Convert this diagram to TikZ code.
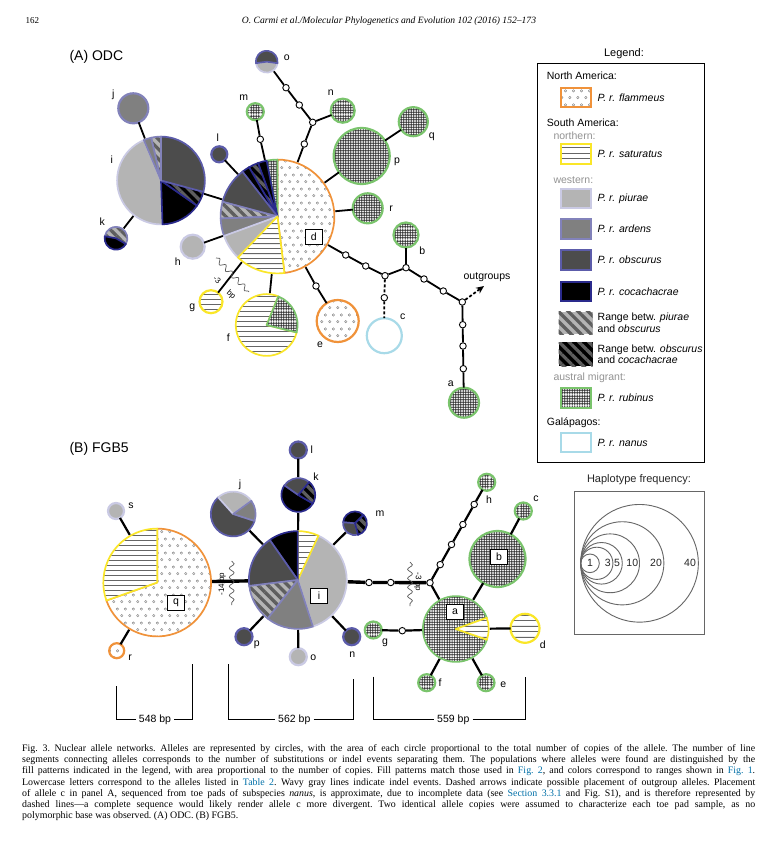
\documentclass[tikz,border=0pt]{standalone}
\usepackage{fontspec}
\setmainfont{Liberation Serif}
\setsansfont{Liberation Sans}
\usetikzlibrary{patterns,patterns.meta,arrows.meta,decorations.pathmorphing,positioning}

\definecolor{orangeb}{RGB}{240,146,58}
\definecolor{yellowb}{RGB}{250,230,40}
\definecolor{greenb}{RGB}{122,196,108}
\definecolor{nanusb}{RGB}{168,218,232}
\definecolor{piuf}{RGB}{180,180,180}
\definecolor{piub}{RGB}{202,202,228}
\definecolor{ardf}{RGB}{128,128,128}
\definecolor{ardb}{RGB}{130,130,186}
\definecolor{obsf}{RGB}{76,76,76}
\definecolor{obsb}{RGB}{92,92,170}
\definecolor{cocb}{RGB}{42,42,140}
\definecolor{linkblue}{RGB}{0,112,168}

\pgfdeclarepatternformonly{rings}{\pgfqpoint{0pt}{0pt}}{\pgfqpoint{8pt}{14pt}}{\pgfqpoint{8pt}{14pt}}{%
  \pgfsetlinewidth{0.45pt}%
  \pgfpathcircle{\pgfqpoint{2pt}{2.5pt}}{1.3pt}%
  \pgfpathcircle{\pgfqpoint{6pt}{9.5pt}}{1.3pt}%
  \pgfusepath{stroke}}
\pgfdeclarepatternformonly{hbars}{\pgfqpoint{0pt}{0pt}}{\pgfqpoint{40pt}{10.4pt}}{\pgfqpoint{40pt}{10.4pt}}{%
  \pgfsetlinewidth{0.9pt}%
  \pgfpathmoveto{\pgfqpoint{-1pt}{2.6pt}}\pgfpathlineto{\pgfqpoint{41pt}{2.6pt}}%
  \pgfpathmoveto{\pgfqpoint{-1pt}{7.8pt}}\pgfpathlineto{\pgfqpoint{41pt}{7.8pt}}%
  \pgfusepath{stroke}}
\pgfdeclarepatternformonly{mesh}{\pgfqpoint{0pt}{0pt}}{\pgfqpoint{10.4pt}{10.4pt}}{\pgfqpoint{10.4pt}{10.4pt}}{%
  \pgfsetlinewidth{0.7pt}%
  \foreach \g in {1.3,3.9,6.5,9.1}{%
    \pgfpathmoveto{\pgfqpoint{-0.5pt}{\g pt}}\pgfpathlineto{\pgfqpoint{10.9pt}{\g pt}}%
    \pgfpathmoveto{\pgfqpoint{\g pt}{-0.5pt}}\pgfpathlineto{\pgfqpoint{\g pt}{10.9pt}}}%
  \pgfusepath{stroke}}

\tikzset{
  piu/.style={fill=piuf,draw=piub},
  ard/.style={fill=ardf,draw=ardb},
  obs/.style={fill=obsf,draw=obsb},
  coc/.style={fill=black,draw=cocb},
  pobs/.style={preaction={fill=piuf},pattern={Lines[angle=-45,distance=7pt,line width=3.3pt]},pattern color=obsf!90,draw=ardb},
  ococ/.style={preaction={fill=black},pattern={Lines[angle=-45,distance=7pt,line width=3.3pt]},pattern color=obsf!90,draw=cocb},
  flam/.style={preaction={fill=white},pattern=rings,pattern color=gray,draw=orangeb},
  satu/.style={preaction={fill=white},pattern=hbars,pattern color=gray!80!black,draw=yellowb},
  rubi/.style={preaction={fill=white},pattern=mesh,pattern color=black!85,draw=greenb},
  nanu/.style={fill=white,draw=nanusb}
}

\newcommand{\pieslice}[5]{%
  \path[#5,line width=1.7pt,line join=round] (#1.center) -- ++({-(#3)}:#2)
    arc[start angle={-(#3)},end angle={-(#4)},radius=#2] -- cycle;}

\begin{document}
\begin{tikzpicture}[x=1pt,y=-1pt,
    allele/.style={circle,inner sep=0pt,outer sep=0pt,line width=2.2pt},
    pienode/.style={circle,inner sep=0pt,outer sep=0pt},
    hole/.style={circle,draw,fill=white,line width=0.9pt,inner sep=0pt,minimum size=6.5pt},
    net/.style={line width=1.8pt},
    netB/.style={line width=2.2pt},
    main/.style={line width=3.4pt},
    wavy/.style={gray!70!black,line width=0.7pt,decorate,decoration={snake,amplitude=2.4pt,segment length=9pt}},
    tag/.style={font=\sffamily\fontsize{10.5}{12}\selectfont,inner sep=1pt},
    idbox/.style={draw,fill=white,line width=0.8pt,font=\sffamily\fontsize{10.5}{12}\selectfont,minimum width=17pt,minimum height=15pt,inner sep=0pt},
    bplabel/.style={font=\sffamily\fontsize{8}{9}\selectfont,inner sep=0pt},
    swatch/.style={rectangle,minimum width=30pt,minimum height=19.5pt,line width=2pt,inner sep=0pt},
    keytext/.style={font=\sffamily\fontsize{10.5}{11.6}\selectfont,inner sep=0pt,align=left},
    keyhead/.style={font=\sffamily\fontsize{10.5}{12}\selectfont,inner sep=0pt,anchor=west},
    keysub/.style={keyhead,text=gray!85},
    bracket/.style={line width=0.9pt}]

\fill[white] (0,0) rectangle (776,842);
\useasboundingbox (0,0) rectangle (776,842);

\node[anchor=west,font=\fontsize{9}{10}\selectfont] (pageno) at (22,21) {162};
\node[font=\itshape\fontsize{9.6}{11}\selectfont] (runhead) at (389,21) {O. Carmi et al./Molecular Phylogenetics and Evolution 102 (2016) 152--173};

% (A) ODC
\node[anchor=west,font=\sffamily\fontsize{14}{16}\selectfont] (titleA) at (66,57) {(A) ODC};

\node[pienode,minimum size=116pt] (Ad) at (277.5,216.5) {};
\node[pienode,minimum size=90pt] (Ai) at (161,180.5) {};
\node[pienode,minimum size=24pt] (Ao) at (266.7,61.7) {};
\node[pienode,minimum size=25pt] (Ak) at (116,238.3) {};
\node[pienode,minimum size=64pt] (Af) at (266.7,325) {};
\node[allele,rubi,minimum size=24pt] (An) at (342.7,110.7) {};
\node[allele,rubi,minimum size=17pt] (Am) at (255.3,111.7) {};
\node[allele,obs,minimum size=16pt] (Al) at (219.3,154.3) {};
\node[allele,rubi,minimum size=56pt] (Ap) at (361.7,156) {};
\node[allele,rubi,minimum size=29pt] (Aq) at (413.3,121.7) {};
\node[allele,rubi,minimum size=30pt] (Ar) at (367.7,208.3) {};
\node[allele,rubi,minimum size=25pt] (Ab) at (406,235) {};
\node[allele,rubi,minimum size=30pt] (Aa) at (464,402.7) {};
\node[allele,nanu,minimum size=35pt] (Ac) at (384.3,335.7) {};
\node[allele,flam,minimum size=42pt] (Ae) at (337.7,321) {};
\node[allele,piu,minimum size=24pt] (Ah) at (192.7,246.7) {};
\node[allele,satu,minimum size=23pt] (Ag) at (211,301.7) {};
\node[allele,ard,minimum size=30pt] (Aj) at (133.3,108.3) {};

\pieslice{Ad}{56.9}{-83}{90}{flam}
\pieslice{Ad}{56.9}{90}{101}{rubi}
\pieslice{Ad}{56.9}{101}{110}{coc}
\pieslice{Ad}{56.9}{110}{120}{ococ}
\pieslice{Ad}{56.9}{120}{128}{coc}
\pieslice{Ad}{56.9}{128}{165}{obs}
\pieslice{Ad}{56.9}{165}{182}{pobs}
\pieslice{Ad}{56.9}{182}{200}{ard}
\pieslice{Ad}{56.9}{200}{226}{piu}
\pieslice{Ad}{56.9}{226}{277}{satu}

\pieslice{Ai}{43.9}{113}{272}{piu}
\pieslice{Ai}{43.9}{-88}{-35}{coc}
\pieslice{Ai}{43.9}{-35}{-15}{ococ}
\pieslice{Ai}{43.9}{-15}{90}{obs}
\pieslice{Ai}{43.9}{90}{103}{pobs}
\pieslice{Ai}{43.9}{103}{113}{ard}

\pieslice{Ao}{10.9}{188}{352}{piu}
\pieslice{Ao}{10.9}{-8}{188}{obs}
\pieslice{Ak}{11.4}{-30}{170}{pobs}
\pieslice{Ak}{11.4}{170}{330}{coc}
\pieslice{Af}{30.9}{68}{346}{satu}
\pieslice{Af}{30.9}{-14}{68}{rubi}

\node[hole] (Ao1) at (286,87.7) {};
\node[hole] (Ao2) at (299.3,105) {};
\node[hole] (Ax) at (312.7,122.3) {};
\node[hole] (Ax1) at (304.3,144) {};
\node[hole] (Am1) at (260.3,139.3) {};
\node[hole] (Ay1) at (345.7,255) {};
\node[hole] (Ay2) at (365.7,266) {};
\node[hole] (Ay) at (385,275.7) {};
\node[hole] (Az) at (406,267.7) {};
\node[hole] (Az1) at (424,279) {};
\node[hole] (Az2) at (443.3,291) {};
\node[hole] (Aw) at (462.3,302) {};
\node[hole] (Aw1) at (462.7,324.7) {};
\node[hole] (Aw2) at (463,346) {};
\node[hole] (Aw3) at (463.3,368.7) {};
\node[hole] (Ac1) at (384.3,297.7) {};
\node[hole] (Ae1) at (316,286) {};
\coordinate (Aout) at (484,286);

\draw[net] (Ao) -- (Ao1) -- (Ao2) -- (Ax) -- (Ax1) -- (Ad);
\draw[net] (Ax) -- (An);
\draw[net] (Am) -- (Am1) -- (Ad);
\draw[net] (Al) -- (Ad);
\draw[net] (Ad) -- (Ap) -- (Aq);
\draw[net] (Ad) -- (Ar);
\draw[net] (Ad) -- (Ay1) -- (Ay2) -- (Ay) -- (Az) -- (Az1) -- (Az2) -- (Aw);
\draw[net] (Az) -- (Ab);
\draw[net] (Aw) -- (Aw1) -- (Aw2) -- (Aw3) -- (Aa);
\draw[net,dash pattern=on 3pt off 2pt] (Ay) -- (Ac1) -- (Ac);
\draw[net,dash pattern=on 3pt off 2pt,-{Stealth[length=8pt,width=7pt]}] (Aw) -- (Aout);
\draw[net] (Ad) -- (Ae1) -- (Ae);
\draw[net] (Ah) -- (Ad);
\draw[net] (Ag) -- (Ad);
\draw[net] (Af) -- (Ad);
\draw[net] (Ai) -- (Ad);
\draw[net] (Aj) -- (Ai);
\draw[net] (Ak) -- (Ai);
\draw[wavy] (216,258) -- (249,292);
\node[bplabel,rotate=-40] (gapA1) at (217,280) {-3};
\node[bplabel,rotate=-40] (gapA2) at (231,295) {bp};

\node[tag] (tAo) at (286.7,58) {o};
\node[tag] (tAn) at (330.7,92.3) {n};
\node[tag] (tAm) at (243.7,97.3) {m};
\node[tag] (tAl) at (217.7,137.7) {l};
\node[tag] (tAp) at (397,161.7) {p};
\node[tag] (tAq) at (431.7,136.7) {q};
\node[tag] (tAr) at (391,209) {r};
\node[tag] (tAb) at (422.3,251) {b};
\node[tag] (tAa) at (450.7,384) {a};
\node[tag] (tAc) at (402.7,316.7) {c};
\node[tag] (tAe) at (320,344.3) {e};
\node[tag] (tAh) at (177.7,261.7) {h};
\node[tag] (tAg) at (192.3,307.3) {g};
\node[tag] (tAf) at (228.3,337.3) {f};
\node[tag] (tAi) at (111.7,160) {i};
\node[tag] (tAj) at (113.3,94.3) {j};
\node[tag] (tAk) at (102.3,221.7) {k};
\node[idbox] (tAd) at (313.7,236.7) {d};
\node[tag] (tAout) at (487,277) {outgroups};

% legend
\node[font=\sffamily\fontsize{11}{12}\selectfont] (legtitle) at (624,53.3) {Legend:};
\draw[line width=1pt] (537.3,63.3) rectangle (704.7,462.7);
\node[keyhead] (hNA) at (546.7,76) {North America:};
\node[keyhead] (hSA) at (546.7,122.7) {South America:};
\node[keysub] (hnorth) at (553.3,135.7) {northern:};
\node[keysub] (hwest) at (553.3,180) {western:};
\node[keysub] (haust) at (553.3,377.7) {austral migrant:};
\node[keyhead] (hgal) at (546.7,422.7) {Galápagos:};
\node[swatch,flam] (kflam) at (575.5,97.5) {};
\node[swatch,satu] (ksatu) at (575.5,154.2) {};
\node[swatch,piu] (kpiu) at (575.5,198.5) {};
\node[swatch,ard] (kard) at (575.5,229.2) {};
\node[swatch,obs] (kobs) at (575.5,260.2) {};
\node[swatch,coc] (kcoc) at (575.5,291.3) {};
\node[swatch,pobs,draw=none,minimum width=34pt,minimum height=22.6pt] (kpobs) at (575.5,323) {};
\node[swatch,ococ,draw=none,minimum width=34pt,minimum height=23.7pt] (kococ) at (575.5,354.2) {};
\node[swatch,rubi] (krubi) at (575.5,398) {};
\node[swatch,nanu] (knanu) at (575.5,442.5) {};
\node[keytext,right=6pt of kflam] (tflam) {\textit{P. r. flammeus}};
\node[keytext,right=6pt of ksatu] (tsatu) {\textit{P. r. saturatus}};
\node[keytext,right=6pt of kpiu] (tpiu) {\textit{P. r. piurae}};
\node[keytext,right=6pt of kard] (tard) {\textit{P. r. ardens}};
\node[keytext,right=6pt of kobs] (tobs) {\textit{P. r. obscurus}};
\node[keytext,right=6pt of kcoc] (tcoc) {\textit{P. r. cocachacrae}};
\node[keytext,right=4pt of kpobs] (tpobs) {Range betw. \textit{piurae}\\and \textit{obscurus}};
\node[keytext,right=4pt of kococ] (tococ) {Range betw. \textit{obscurus}\\and \textit{cocachacrae}};
\node[keytext,right=6pt of krubi] (trubi) {\textit{P. r. rubinus}};
\node[keytext,right=6pt of knanu] (tnanu) {\textit{P. r. nanus}};

% (B) FGB5
\node[anchor=west,font=\sffamily\fontsize{14}{16}\selectfont] (titleB) at (66,448.5) {(B) FGB5};

\node[pienode,minimum size=110pt] (Bq) at (157.2,582.5) {};
\node[pienode,minimum size=100pt] (Bi) at (297.8,580) {};
\node[pienode,minimum size=47pt] (Bj) at (233.2,514) {};
\node[pienode,minimum size=36pt] (Bk) at (298.3,495) {};
\node[pienode,minimum size=26pt] (Bm) at (355,523.3) {};
\node[pienode,minimum size=68pt] (Ba) at (455.8,629) {};
\node[allele,piu,minimum size=16pt] (Bs) at (116,511) {};
\node[allele,flam,minimum size=15pt] (Br) at (116.7,650.7) {};
\node[allele,obs,minimum size=17pt] (Bl) at (298.3,450) {};
\node[allele,obs,minimum size=17pt] (Bn) at (351.7,636.7) {};
\node[allele,piu,minimum size=17pt] (Bo) at (298.3,656.7) {};
\node[allele,obs,minimum size=17pt] (Bp) at (244,636.7) {};
\node[allele,rubi,minimum size=17pt] (Bh) at (486.7,482.3) {};
\node[allele,rubi,minimum size=56pt] (Bb) at (497.5,559) {};
\node[allele,rubi,minimum size=17pt] (Bc) at (523.3,511) {};
\node[allele,satu,minimum size=29pt] (Bd) at (525,628.3) {};
\node[allele,rubi,minimum size=17pt] (Bg) at (373.3,630) {};
\node[allele,rubi,minimum size=17pt] (Bf) at (426.7,682.7) {};
\node[allele,rubi,minimum size=17pt] (Be) at (486,682.7) {};

\pieslice{Bq}{53.9}{199.5}{450}{flam}
\pieslice{Bq}{53.9}{90}{199.5}{satu}

\pieslice{Bi}{48.9}{-72}{65}{piu}
\pieslice{Bi}{48.9}{65}{90}{satu}
\pieslice{Bi}{48.9}{90}{125}{coc}
\pieslice{Bi}{48.9}{125}{187}{obs}
\pieslice{Bi}{48.9}{187}{232}{pobs}
\pieslice{Bi}{48.9}{232}{288}{ard}

\pieslice{Bj}{22.4}{132}{342}{obs}
\pieslice{Bj}{22.4}{36}{132}{piu}
\pieslice{Bj}{22.4}{-18}{36}{ard}

\pieslice{Bk}{16.9}{145}{330}{coc}
\pieslice{Bk}{16.9}{50}{145}{obs}
\pieslice{Bk}{16.9}{-30}{50}{ococ}

\pieslice{Bm}{11.9}{45}{175}{coc}
\pieslice{Bm}{11.9}{175}{285}{obs}
\pieslice{Bm}{11.9}{-75}{45}{ococ}

\pieslice{Ba}{32.9}{20}{341}{rubi}
\pieslice{Ba}{32.9}{-19}{20}{satu}

\node[hole] (Bi1) at (369,582.5) {};
\node[hole] (Bi2) at (390.7,582.5) {};
\node[hole] (Bx) at (430,582.7) {};
\node[hole] (Bx1) at (440.2,564.6) {};
\node[hole] (Bx2) at (451.5,544.5) {};
\node[hole] (Bx3) at (462.9,524.5) {};
\node[hole] (Bx4) at (474.2,504.4) {};
\node[hole] (Bg1) at (402.3,630.7) {};

\draw[main] (Bq) -- (Bi);
\draw[main] (Bi) -- (Bi1) -- (Bi2) -- (Bx);
\draw[netB] (Bs) -- (Bq);
\draw[netB] (Br) -- (Bq);
\draw[netB] (Bj) -- (Bi);
\draw[netB] (Bl) -- (Bk) -- (Bi);
\draw[netB] (Bm) -- (Bi);
\draw[netB] (Bn) -- (Bi);
\draw[netB] (Bo) -- (Bi);
\draw[netB] (Bp) -- (Bi);
\draw[netB] (Bx) -- (Bx1) -- (Bx2) -- (Bx3) -- (Bx4) -- (Bh);
\draw[netB] (Bx) -- (Ba);
\draw[netB] (Ba) -- (Bb) -- (Bc);
\draw[netB] (Ba) -- (Bd);
\draw[netB] (Bg) -- (Bg1) -- (Ba);
\draw[netB] (Bf) -- (Ba);
\draw[netB] (Be) -- (Ba);
\draw[wavy] (231.7,561) -- (231.7,605);
\node[bplabel,rotate=90] (gapB1) at (222,584) {-14 bp};
\draw[wavy] (410,562) -- (410,606);
\node[bplabel,rotate=-90] (gapB2) at (418,582) {-3 bp};

\node[tag] (tBs) at (131,505.3) {s};
\node[tag] (tBr) at (130,657.3) {r};
\node[tag] (tBj) at (240,485) {j};
\node[tag] (tBk) at (316,476.7) {k};
\node[tag] (tBl) at (311.7,450) {l};
\node[tag] (tBm) at (380,513.3) {m};
\node[tag] (tBn) at (352.3,655) {n};
\node[tag] (tBo) at (313.3,657.7) {o};
\node[tag] (tBp) at (256.7,645) {p};
\node[tag] (tBh) at (489,499.3) {h};
\node[tag] (tBc) at (536,499) {c};
\node[tag] (tBg) at (385,642.7) {g};
\node[tag] (tBf) at (440,682.7) {f};
\node[tag] (tBe) at (503.3,684.3) {e};
\node[tag] (tBd) at (542.7,645) {d};
\node[idbox] (tBq) at (176,602.7) {q};
\node[idbox] (tBi) at (319,596) {i};
\node[idbox] (tBa) at (455,611.7) {a};
\node[idbox] (tBb) at (499,556.7) {b};

\node[tag,inner sep=3pt] (len1) at (155,719.3) {548 bp};
\node[tag,inner sep=3pt] (len2) at (294.3,719.3) {562 bp};
\node[tag,inner sep=3pt] (len3) at (453.3,719.3) {559 bp};
\coordinate (len1a) at (116.7,686);
\coordinate (len1b) at (192.3,664);
\coordinate (len2a) at (228.3,664);
\coordinate (len2b) at (353.3,679.3);
\coordinate (len3a) at (373.3,676.7);
\coordinate (len3b) at (525.7,676.7);
\draw[bracket] (len1a) |- (len1.west);
\draw[bracket] (len1.east) -| (len1b);
\draw[bracket] (len2a) |- (len2.west);
\draw[bracket] (len2.east) -| (len2b);
\draw[bracket] (len3a) |- (len3.west);
\draw[bracket] (len3.east) -| (len3b);

% haplotype frequency
\node[font=\sffamily\fontsize{11}{12}\selectfont,text=gray!30!black] (haptitle) at (639,480) {Haplotype frequency:};
\draw[gray!80!black,line width=0.8pt] (574.3,491.7) rectangle (704.3,634);
\foreach \n/\lx in {1/590,3/607.7,5/617,10/632.3,20/656,40/690}{
  \pgfmathsetmacro{\rr}{9.3*sqrt(\n)}
  \draw[gray!80!black,line width=0.9pt] (580.7+\rr,563.3) circle[radius=\rr];
  \node[tag,text=gray!30!black] (hap\n) at (\lx,563.3) {\n};
}

% caption
\node[anchor=north west,inner sep=0pt,text width=733pt,align=justify,
      font=\fontsize{9.9}{11.2}\selectfont] (caption) at (22,744.3)
{\frenchspacing\hyphenpenalty=10000 Fig.~3. Nuclear allele networks. Alleles are represented by circles, with the area of each circle proportional to the total number of copies of the allele. The number of line\linebreak
segments connecting alleles corresponds to the number of substitutions or indel events separating them. The populations where alleles were found are distinguished by the\linebreak
fill patterns indicated in the legend, with area proportional to the number of copies. Fill patterns match those used in \textcolor{linkblue}{Fig.~2}, and colors correspond to ranges shown in \textcolor{linkblue}{Fig.~1}.\linebreak
Lowercase letters correspond to the alleles listed in \textcolor{linkblue}{Table 2}. Wavy gray lines indicate indel events. Dashed arrows indicate possible placement of outgroup alleles. Placement\linebreak
of allele c in panel A, sequenced from toe pads of subspecies \textit{nanus}, is approximate, due to incomplete data (see \textcolor{linkblue}{Section 3.3.1} and Fig. S1), and is therefore represented by\linebreak
dashed lines---a complete sequence would likely render allele c more divergent. Two identical allele copies were assumed to characterize each toe pad sample, as no\linebreak
polymorphic base was observed. (A) ODC. (B) FGB5.};
\end{tikzpicture}
\end{document}
